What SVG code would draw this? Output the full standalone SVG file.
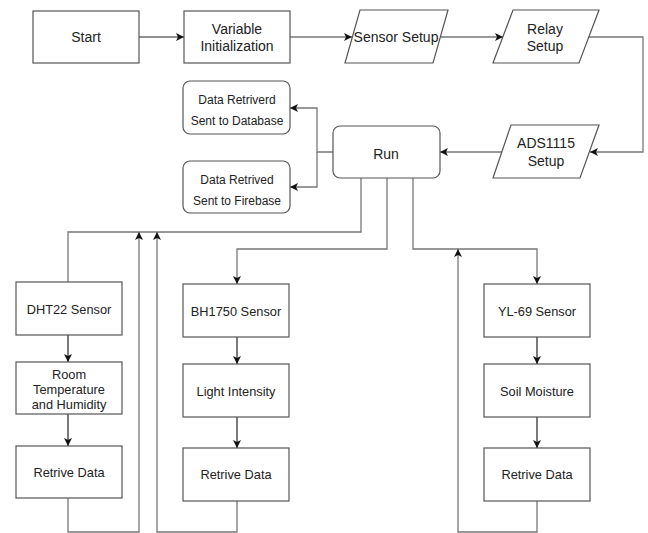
<svg xmlns="http://www.w3.org/2000/svg" width="648" height="533" viewBox="0 0 648 533">
<defs>
<marker id="arr" markerWidth="10" markerHeight="8" refX="8" refY="4" orient="auto" markerUnits="userSpaceOnUse">
<path d="M0,0 L8,4 L0,8 L2,4 z" fill="#111"/>
</marker>
<style>
.box{fill:#fff;stroke:#555;stroke-width:1.2}
.t{font-family:"Liberation Sans",Arial,sans-serif;fill:#222;text-anchor:middle;dominant-baseline:central}
.t14{font-size:14px}
.t13{font-size:12.8px}
.t12{font-size:12px}
.c{fill:none;stroke:#777;stroke-width:1.3}
.k{fill:none;stroke:#222;stroke-width:1.2}
</style>
</defs>
<rect width="648" height="533" fill="#fff"/>
<g id="connectors">
<path class="k" d="M139,37 H184" marker-end="url(#arr)"/>
<path class="c" d="M290,37 H352" marker-end="url(#arr)"/>
<path class="c" d="M440,37 H503" marker-end="url(#arr)"/>
<path class="c" d="M589,37 H643 V152 H590" marker-end="url(#arr)"/>
<path class="c" d="M502,152 H440" marker-end="url(#arr)"/>
<path class="c" d="M333,152 H317 V108 H290" marker-end="url(#arr)"/>
<path class="c" d="M317,152 V187 H290" marker-end="url(#arr)"/>
<path class="c" d="M361,178 V232 H68 V282"/>
<path class="c" d="M387,178 V249 H237 V284" marker-end="url(#arr)"/>
<path class="c" d="M413,178 V249 H537 V284" marker-end="url(#arr)"/>
<path class="k" d="M68,335 V362" marker-end="url(#arr)"/>
<path class="k" d="M68,414 V446" marker-end="url(#arr)"/>
<path class="c" d="M68,498 V532 H139 V232" marker-end="url(#arr)"/>
<path class="k" d="M237,337 V364" marker-end="url(#arr)"/>
<path class="k" d="M237,417 V448" marker-end="url(#arr)"/>
<path class="c" d="M237,501 V532 H157 V232" marker-end="url(#arr)"/>
<path class="k" d="M537,337 V364" marker-end="url(#arr)"/>
<path class="k" d="M537,417 V448" marker-end="url(#arr)"/>
<path class="c" d="M537,501 V532 H458 V249" marker-end="url(#arr)"/>
</g>
<g id="start"><rect class="box" x="33" y="11" width="106" height="52"/><text class="t t14" x="86" y="37">Start</text></g>
<g id="varinit"><rect class="box" x="184" y="11" width="106" height="52"/><text class="t t14" x="237" y="29">Variable</text><text class="t t14" x="237" y="46">Initialization</text></g>
<g id="sensorsetup"><polygon class="box" points="360,10 448,10 433,63 345,63"/><text class="t t14" x="396" y="37">Sensor Setup</text></g>
<g id="relaysetup"><polygon class="box" points="513,10 599,10 579,63 493,63"/><text class="t t14" x="545" y="29">Relay</text><text class="t t14" x="545" y="46">Setup</text></g>
<g id="ads1115"><polygon class="box" points="511,125 599,125 580,178 493,178"/><text class="t t14" x="546" y="143">ADS1115</text><text class="t t14" x="546" y="161">Setup</text></g>
<g id="run"><rect class="box" x="333" y="126" width="107" height="52" rx="7"/><text class="t t14" x="386" y="154">Run</text></g>
<g id="database"><rect class="box" x="183" y="81" width="107" height="53" rx="7"/><text class="t t12" x="237" y="100">Data Retriverd</text><text class="t t12" x="237" y="121">Sent to Database</text></g>
<g id="firebase"><rect class="box" x="183" y="161" width="107" height="52" rx="7"/><text class="t t12" x="237" y="180">Data Retrived</text><text class="t t12" x="237" y="201">Sent to Firebase</text></g>
<g id="dht22"><rect class="box" x="16" y="282" width="106" height="53"/><text class="t t13" x="69" y="309">DHT22 Sensor</text></g>
<g id="roomtemp"><rect class="box" x="16" y="362" width="106" height="52"/><text class="t t13" x="69" y="374">Room</text><text class="t t13" x="69" y="389">Temperature</text><text class="t t13" x="69" y="404">and Humidity</text></g>
<g id="retrive1"><rect class="box" x="16" y="446" width="106" height="52"/><text class="t t13" x="69" y="472">Retrive Data</text></g>
<g id="bh1750"><rect class="box" x="183" y="284" width="106" height="53"/><text class="t t13" x="236" y="311">BH1750 Sensor</text></g>
<g id="light"><rect class="box" x="183" y="364" width="106" height="53"/><text class="t t13" x="236" y="391">Light Intensity</text></g>
<g id="retrive2"><rect class="box" x="183" y="448" width="106" height="53"/><text class="t t13" x="236" y="474">Retrive Data</text></g>
<g id="yl69"><rect class="box" x="484" y="284" width="106" height="53"/><text class="t t13" x="537" y="311">YL-69 Sensor</text></g>
<g id="soil"><rect class="box" x="484" y="364" width="106" height="53"/><text class="t t13" x="537" y="391">Soil Moisture</text></g>
<g id="retrive3"><rect class="box" x="484" y="448" width="106" height="53"/><text class="t t13" x="537" y="474">Retrive Data</text></g>
</svg>
